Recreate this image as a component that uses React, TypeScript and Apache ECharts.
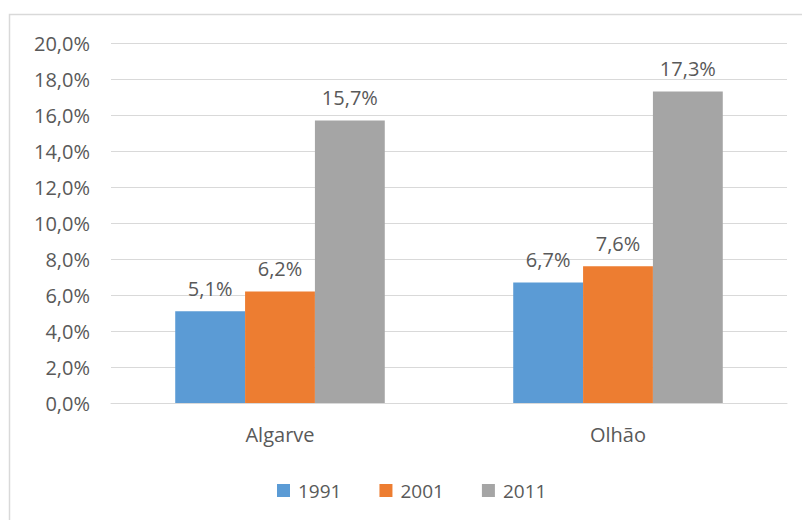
import React, { useEffect, useRef } from "react";
import * as echarts from "echarts";

const categories = ["Algarve", "Olhão"];
const seriesNames = ["1991", "2001", "2011"];
const values1991 = [5.1, 6.7];
const values2001 = [6.2, 7.6];
const values2011 = [15.7, 17.3];
const colors = ["#5B9BD5", "#ED7D31", "#A5A5A5"];

const fmt = (v: number) => v.toFixed(1).replace(".", ",") + "%";
const FONT = "Open Sans";
const TXT = "#595959";

export default function App() {
  const ref = useRef<HTMLDivElement>(null);
  useEffect(() => {
    const chart = echarts.init(ref.current!, undefined, { renderer: "svg" });
    const data = [values1991, values2001, values2011];
    chart.setOption({
      animation: false,
      textStyle: { fontFamily: FONT },
      graphic: [
        {
          type: "rect",
          shape: { x: 9.5, y: 14.5, width: 820, height: 540 },
          style: { fill: "none", stroke: "#D9D9D9", lineWidth: 1.5 },
          silent: true,
        },
      ],
      grid: { left: 111, right: 15, top: 43, bottom: 117, containLabel: false },
      legend: {
        data: seriesNames,
        left: 277,
        top: 481,
        padding: 0,
        itemWidth: 13,
        itemHeight: 13,
        itemGap: 38,
        icon: "rect",
        textStyle: { color: TXT, fontSize: 19, fontFamily: FONT, padding: [0, 0, 0, 3] },
      },
      xAxis: {
        type: "category",
        data: categories,
        axisTick: { show: false },
        axisLine: { lineStyle: { color: "#D9D9D9", width: 1 } },
        axisLabel: { color: TXT, fontSize: 20, margin: 21, fontFamily: FONT },
      },
      yAxis: {
        type: "value",
        min: 0,
        max: 20,
        interval: 2,
        axisLine: { show: false },
        axisTick: { show: false },
        splitLine: { lineStyle: { color: "#D9D9D9", width: 1 } },
        axisLabel: {
          color: TXT,
          fontSize: 20,
          margin: 21,
          fontFamily: FONT,
          formatter: (v: number) => fmt(v),
        },
      },
      series: seriesNames.map((name, i) => ({
        name,
        type: "bar",
        data: data[i],
        itemStyle: { color: colors[i] },
        barGap: "0%",
        barCategoryGap: "38%",
        label: {
          show: true,
          position: "top",
          distance: 13,
          color: TXT,
          fontSize: 20,
          fontFamily: FONT,
          formatter: (p: any) => fmt(p.value),
        },
      })),
    });
    return () => chart.dispose();
  }, []);
  return <div ref={ref} style={{ width: 802, height: 520, position: "absolute", left: 0, top: 0 }} />;
}
